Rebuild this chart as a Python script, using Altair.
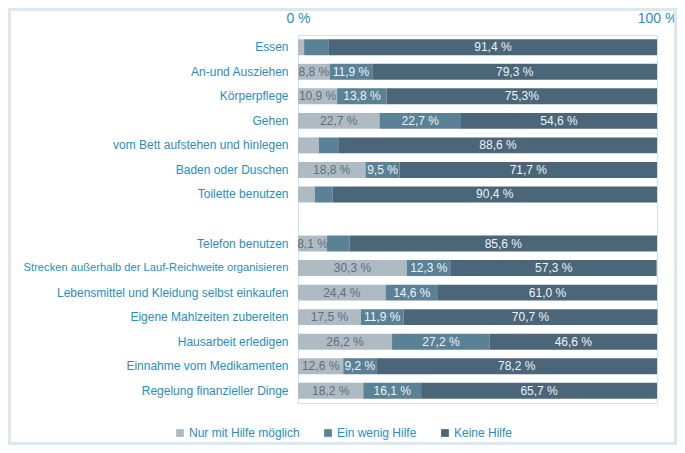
import altair as alt
import pandas as pd

categories = [
    "Essen", "An-und Ausziehen", "Körperpflege", "Gehen",
    "vom Bett aufstehen und hinlegen", "Baden oder Duschen", "Toilette benutzen",
    " ",
    "Telefon benutzen", "Strecken außerhalb der Lauf-Reichweite organisieren",
    "Lebensmittel und Kleidung selbst einkaufen", "Eigene Mahlzeiten zubereiten",
    "Hausarbeit erledigen", "Einnahme vom Medikamenten", "Regelung finanzieller Dinge",
]
series = ["Nur mit Hilfe möglich", "Ein wenig Hilfe", "Keine Hilfe"]

nur_values = [1.7, 8.8, 10.9, 22.7, 5.8, 18.8, 4.7, 0, 8.1, 30.3, 24.4, 17.5, 26.2, 12.6, 18.2]
ein_values = [6.9, 11.9, 13.8, 22.7, 5.6, 9.5, 4.9, 0, 6.3, 12.3, 14.6, 11.9, 27.2, 9.2, 16.1]
keine_values = [91.4, 79.3, 75.3, 54.6, 88.6, 71.7, 90.4, 0, 85.6, 57.3, 61.0, 70.7, 46.6, 78.2, 65.7]

nur_labels = ["", "8,8 %", "10,9 %", "22,7 %", "", "18,8 %", "", "", "8,1 %", "30,3 %",
              "24,4 %", "17,5 %", "26,2 %", "12,6 %", "18,2 %"]
ein_labels = ["", "11,9 %", "13,8 %", "22,7 %", "", "9,5 %", "", "", "", "12,3 %",
              "14,6 %", "11,9 %", "27,2 %", "9,2 %", "16,1 %"]
keine_labels = ["91,4 %", "79,3 %", "75,3%", "54,6 %", "88,6 %", "71,7 %", "90,4 %", "",
                "85,6 %", "57,3 %", "61,0 %", "70,7 %", "46,6 %", "78,2 %", "65,7 %"]

colors = ["#aebbc3", "#5a8196", "#4a6678"]
label_colors = ["#5d6f7b", "#eef3f6", "#eef3f6"]
blue = "#2a8cbc"
FONT = "Liberation Sans"

rows = []
for s_i, (vals, labs) in enumerate(zip([nur_values, ein_values, keine_values],
                                       [nur_labels, ein_labels, keine_labels])):
    for c, v, l in zip(categories, vals, labs):
        rows.append({"cat": c, "series": series[s_i], "order": s_i, "value": v,
                     "label": l, "tcolor": label_colors[s_i]})
df = pd.DataFrame(rows)

W, H = 359, 368
PL, PT, PR, PB = 290, 27, 20, 42

base = alt.Chart(df).transform_stack(
    stack="value", groupby=["cat"], as_=["x0", "x1"],
    sort=[alt.SortField("order", order="ascending")],
).transform_calculate(mid="(datum.x0 + datum.x1) / 2")

y_enc = alt.Y("cat:N", sort=categories, title=None,
              scale=alt.Scale(paddingInner=0.35, paddingOuter=0.175),
              axis=alt.Axis(domain=False, ticks=False, labelColor=blue,
                            labelFontSize={"condition": {"test": "length(datum.label) > 45",
                                                         "value": 11.2},
                                           "value": 12},
                            labelFont=FONT, labelPadding=10, labelLimit=300))

bars = base.mark_bar().encode(
    x=alt.X("x0:Q", scale=alt.Scale(domain=[0, 100], nice=False), title=None,
            axis=alt.Axis(orient="top", values=[0, 100], labelExpr="datum.value + ' %'",
                          domain=False, ticks=False, grid=True, gridColor="#cfe2ec",
                          gridWidth=1, labelColor=blue, labelFontSize=14,
                          labelFont=FONT, labelPadding=10,
                          labelFlush=False)),
    x2="x1:Q",
    y=y_enc,
    color=alt.Color("series:N", sort=series,
                    scale=alt.Scale(domain=series, range=colors),
                    legend=alt.Legend(title=None, orient="none", direction="horizontal",
                                      legendX=-124, legendY=392, symbolType="square",
                                      symbolSize=60, symbolStrokeWidth=0,
                                      labelColor=blue, labelFontSize=12,
                                      labelFont=FONT, columnPadding=22,
                                      labelOffset=3)),
    order=alt.Order("order:Q"),
)

texts = base.mark_text(fontSize=12, font=FONT, baseline="middle").encode(
    x=alt.X("mid:Q"),
    y=alt.Y("cat:N", sort=categories),
    text="label:N",
    color=alt.Color("tcolor:N", scale=None),
)

frame = alt.Chart(alt.Data(values=[{}])).mark_rect(
    fill=None, stroke="#dbe8ef", strokeWidth=3
).encode(
    x=alt.value(-PL + 1.5), x2=alt.value(W + PR - 1.5),
    y=alt.value(-PT + 1.5), y2=alt.value(H + PB - 1.5),
)

chart = alt.layer(bars, texts, frame).properties(
    width=W, height=H,
    autosize=alt.AutoSizeParams(type="none"),
    padding={"left": PL, "top": PT, "right": PR, "bottom": PB},
).configure_view(stroke=None).configure(background="white")

chart.save("out.html", embed_options={"renderer": "svg", "actions": False})
